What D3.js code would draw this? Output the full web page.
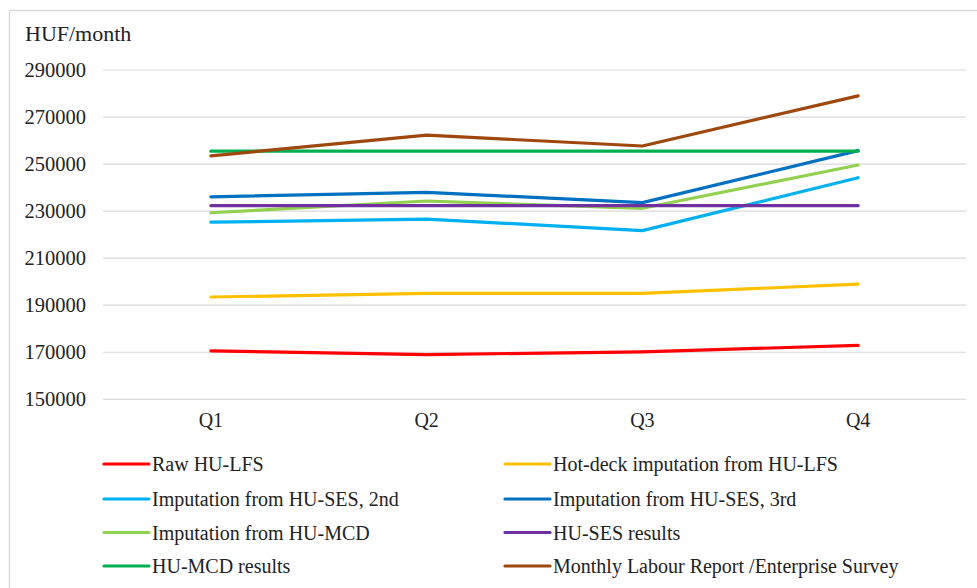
<!DOCTYPE html>
<html>
<head>
<meta charset="utf-8">
<script src="https://cdn.jsdelivr.net/npm/d3@7"></script>
<style>
  html, body { margin: 0; padding: 0; background: #fff; }
  svg { display: block; font-family: "Liberation Serif", "Times New Roman", serif; }
</style>
</head>
<body>
<svg id="chart" width="977" height="588"></svg>
<script>
// Quarters on the x axis
const quarters = ["Q1", "Q2", "Q3", "Q4"];

// Y axis ticks (HUF/month)
const yTicks = [150000, 170000, 190000, 210000, 230000, 250000, 270000, 290000];

// Series names (legend order) and quarterly values
const seriesNames = [
  "Raw HU-LFS",
  "Hot-deck imputation from HU-LFS",
  "Imputation from HU-SES, 2nd",
  "Imputation from HU-SES, 3rd",
  "Imputation from HU-MCD",
  "HU-SES results",
  "HU-MCD results",
  "Monthly Labour Report /Enterprise Survey"
];
const rawLFS        = [170600, 169000, 170200, 172900];
const hotDeckLFS    = [193500, 195000, 195000, 199000];
const impSES2nd     = [225300, 226600, 221700, 244200];
const impSES3rd     = [236100, 238000, 233600, 255700];
const impMCD        = [229300, 234300, 231200, 249600];
const sesResults    = [232300, 232300, 232300, 232300];
const mcdResults    = [255500, 255500, 255500, 255500];
const monthlyReport = [253500, 262300, 257700, 279000];
const seriesValues = [rawLFS, hotDeckLFS, impSES2nd, impSES3rd, impMCD, sesResults, mcdResults, monthlyReport];
const seriesColors = ["#FF0000", "#FFC000", "#00B0F0", "#0070C0", "#92D050", "#7030A0", "#00B050", "#9E480E"];

const svg = d3.select("#chart");

// outer frame (open on the right and bottom)
svg.append("path")
  .attr("d", "M9.5,588 V10.5 H977")
  .attr("fill", "none")
  .attr("stroke", "#d9d9d9")
  .attr("stroke-width", 1.5);

const plot = { left: 103, right: 966, top: 70, bottom: 399.3 };

const x = d3.scaleBand().domain(quarters).range([plot.left, plot.right]);
const y = d3.scaleLinear().domain([150000, 290000]).range([plot.bottom, plot.top]);

// horizontal gridlines
svg.append("g")
  .selectAll("line")
  .data(yTicks)
  .join("line")
  .attr("x1", plot.left)
  .attr("x2", plot.right)
  .attr("y1", d => y(d))
  .attr("y2", d => y(d))
  .attr("stroke", "#d9d9d9")
  .attr("stroke-width", 1.2);

// y axis labels
const yAxis = d3.axisLeft(y).tickValues(yTicks).tickSize(0).tickPadding(0).tickFormat(d3.format("d"));
svg.append("g")
  .attr("transform", `translate(${86},0)`)
  .call(yAxis)
  .call(g => g.select(".domain").remove())
  .call(g => g.selectAll("text")
    .attr("font-family", "Liberation Serif, serif")
    .attr("font-size", 20.5)
    .attr("fill", "#222"));

// x axis labels
const xAxis = d3.axisBottom(x).tickSize(0).tickPadding(0);
svg.append("g")
  .attr("transform", `translate(0,${413})`)
  .call(xAxis)
  .call(g => g.select(".domain").remove())
  .call(g => g.selectAll("text")
    .attr("font-family", "Liberation Serif, serif")
    .attr("font-size", 20)
    .attr("fill", "#222"));

// axis unit title
svg.append("text")
  .attr("x", 25)
  .attr("y", 41)
  .attr("font-size", 22)
  .attr("fill", "#222")
  .text("HUF/month");

// series lines
const line = d3.line()
  .x((d, i) => x(quarters[i]) + x.bandwidth() / 2)
  .y(d => y(d));

svg.append("g")
  .selectAll("path")
  .data(seriesValues)
  .join("path")
  .attr("d", d => line(d))
  .attr("fill", "none")
  .attr("stroke", (d, i) => seriesColors[i])
  .attr("stroke-width", 3.2)
  .attr("stroke-linecap", "round")
  .attr("stroke-linejoin", "round");

// legend: two columns, four rows
const legendRows = [464, 499, 532.5, 566];
const legendCols = [104, 505];
const legend = svg.append("g")
  .selectAll("g")
  .data(seriesNames)
  .join("g")
  .attr("transform", (d, i) => `translate(${legendCols[i % 2]},${legendRows[Math.floor(i / 2)]})`);

legend.append("line")
  .attr("x1", 0)
  .attr("x2", 45)
  .attr("y1", 0)
  .attr("y2", 0)
  .attr("stroke", (d, i) => seriesColors[i])
  .attr("stroke-width", 3.2)
  .attr("stroke-linecap", "round");

legend.append("text")
  .attr("x", 48)
  .attr("y", 7)
  .attr("font-size", 20)
  .attr("fill", "#222")
  .text(d => d);
</script>
</body>
</html>
